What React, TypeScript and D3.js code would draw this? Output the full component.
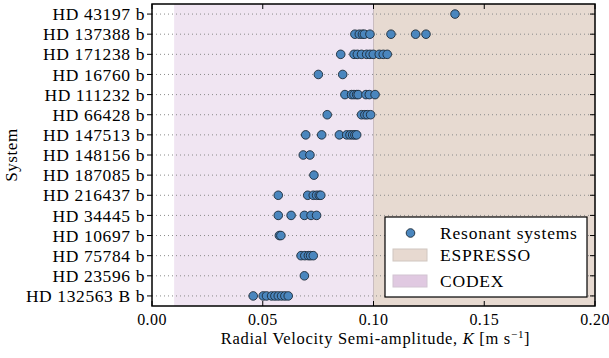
import React from "react";
import * as d3 from "d3";

const systems = [
  "HD 43197 b",
  "HD 137388 b",
  "HD 171238 b",
  "HD 16760 b",
  "HD 111232 b",
  "HD 66428 b",
  "HD 147513 b",
  "HD 148156 b",
  "HD 187085 b",
  "HD 216437 b",
  "HD 34445 b",
  "HD 10697 b",
  "HD 75784 b",
  "HD 23596 b",
  "HD 132563 B b",
];

const kValues: number[][] = [
  [0.1368],
  [0.0916, 0.0936, 0.095, 0.0959, 0.0984, 0.1079, 0.119, 0.1237],
  [0.0852, 0.0912, 0.0927, 0.0946, 0.0969, 0.0984, 0.0999, 0.1026, 0.1044, 0.1062],
  [0.0751, 0.0861],
  [0.0871, 0.0901, 0.0912, 0.0924, 0.0931, 0.0966, 0.0981, 0.1007],
  [0.0791, 0.0946, 0.0961, 0.0972, 0.0987],
  [0.0694, 0.0766, 0.0846, 0.0879, 0.0894, 0.0906, 0.0916, 0.0924],
  [0.0683, 0.0713],
  [0.0731],
  [0.057, 0.0703, 0.0728, 0.0743, 0.0755, 0.0762],
  [0.057, 0.0628, 0.0688, 0.0718, 0.0743],
  [0.0575, 0.0582],
  [0.0673, 0.069, 0.0706, 0.0716, 0.0728],
  [0.0688],
  [0.0457, 0.0502, 0.0517, 0.054, 0.0555, 0.057, 0.0585, 0.06, 0.0615],
];

const xTicks = [0, 0.05, 0.1, 0.15, 0.2];
const codexRange = [0.01, 0.1];
const espressoRange = [0.1, 0.2];
const legendItems = ["Resonant systems", "ESPRESSO", "CODEX"];

const W = 609;
const H = 358;
const left = 152;
const right = 595;
const top = 4;
const bottom = 306;

const font = "'Liberation Serif', 'DejaVu Serif', serif";
const pointFill = "#4a86be";
const pointStroke = "#1c2a38";
const codexFill = "#f0e5f2";
const espressoFill = "#e7dad1";
const codexLegend = "#e0c9e1";
const espressoLegend = "#e7d9d0";

export default function App() {
  const x = d3.scaleLinear().domain([0, 0.2]).range([left, right]);
  const y = d3.scaleLinear().domain([-0.5, systems.length - 0.5]).range([top, bottom]);
  const tickLen = 5;

  return (
    <div style={{ position: "fixed", left: 0, top: 0 }}>
      <svg width={W} height={H} style={{ display: "block", background: "#fff" }} fontFamily={font}>
        {/* bands */}
        <rect x={x(codexRange[0])} y={top} width={x(codexRange[1]) - x(codexRange[0])} height={bottom - top} fill={codexFill} />
        <rect x={x(espressoRange[0])} y={top} width={x(espressoRange[1]) - x(espressoRange[0])} height={bottom - top} fill={espressoFill} />
        <line x1={x(0.1)} x2={x(0.1)} y1={top} y2={bottom} stroke="#c9bcc0" strokeWidth={1} />
        {/* grid */}
        {systems.map((s, i) => (
          <line key={"g" + i} x1={left} x2={right} y1={y(i)} y2={y(i)} stroke="#8a8a8a" strokeWidth={1} strokeDasharray="1,3" />
        ))}
        {/* points */}
        {kValues.map((vals, i) =>
          vals.map((v, j) => (
            <circle key={`p${i}-${j}`} cx={x(v)} cy={y(i)} r={4.3} fill={pointFill} stroke={pointStroke} strokeWidth={0.9} />
          ))
        )}
        {/* frame */}
        <rect x={left} y={top} width={right - left} height={bottom - top} fill="none" stroke="#000" strokeWidth={1.5} />
        {/* y ticks */}
        {systems.map((s, i) => (
          <g key={"yt" + i}>
            <line x1={left - tickLen} x2={left} y1={y(i)} y2={y(i)} stroke="#000" strokeWidth={1} />
            <line x1={right - tickLen} x2={right} y1={y(i)} y2={y(i)} stroke="#000" strokeWidth={1} />
            <text x={left - 7} y={y(i)} dy="0.35em" textAnchor="end" fontSize={17.5} letterSpacing={0.6} fill="#000">
              {s}
            </text>
          </g>
        ))}
        {/* x ticks */}
        {xTicks.map((t, i) => (
          <g key={"xt" + i}>
            <line x1={x(t)} x2={x(t)} y1={bottom} y2={bottom - tickLen} stroke="#000" strokeWidth={1} />
            <line x1={x(t)} x2={x(t)} y1={top} y2={top + tickLen} stroke="#000" strokeWidth={1} />
            <text x={x(t)} y={325} textAnchor="middle" fontSize={16} letterSpacing={0.4} fill="#000">
              {d3.format(".2f")(t)}
            </text>
          </g>
        ))}
        {/* axis labels */}
        <text x={(left + right) / 2 + 2} y={344} textAnchor="middle" fontSize={16.5} letterSpacing={0.7} fill="#000">
          Radial Velocity Semi-amplitude, <tspan fontStyle="italic">K</tspan> [m s
          <tspan dy={-6} fontSize={11}>−1</tspan>
          <tspan dy={6}>]</tspan>
        </text>
        <text transform={`translate(17,155) rotate(-90)`} textAnchor="middle" fontSize={17} letterSpacing={0.6} fill="#000">
          System
        </text>
        {/* legend */}
        <g>
          <rect x={385} y={217} width={202} height={80} fill="#fff" stroke="#000" strokeWidth={1.2} />
          <circle cx={410.5} cy={233} r={4.3} fill={pointFill} stroke={pointStroke} strokeWidth={0.9} />
          <rect x={393} y={249} width={34} height={12} fill={espressoLegend} stroke="#d0c6c0" strokeWidth={1} />
          <rect x={393} y={275} width={34} height={12} fill={codexLegend} stroke="#d2c4d2" strokeWidth={1} />
          {legendItems.map((t, i) => (
            <text key={"l" + i} x={440} y={[233, 255, 281][i]} dy="0.35em" fontSize={17.5} letterSpacing={0.8} fill="#000">
              {t}
            </text>
          ))}
        </g>
      </svg>
    </div>
  );
}
